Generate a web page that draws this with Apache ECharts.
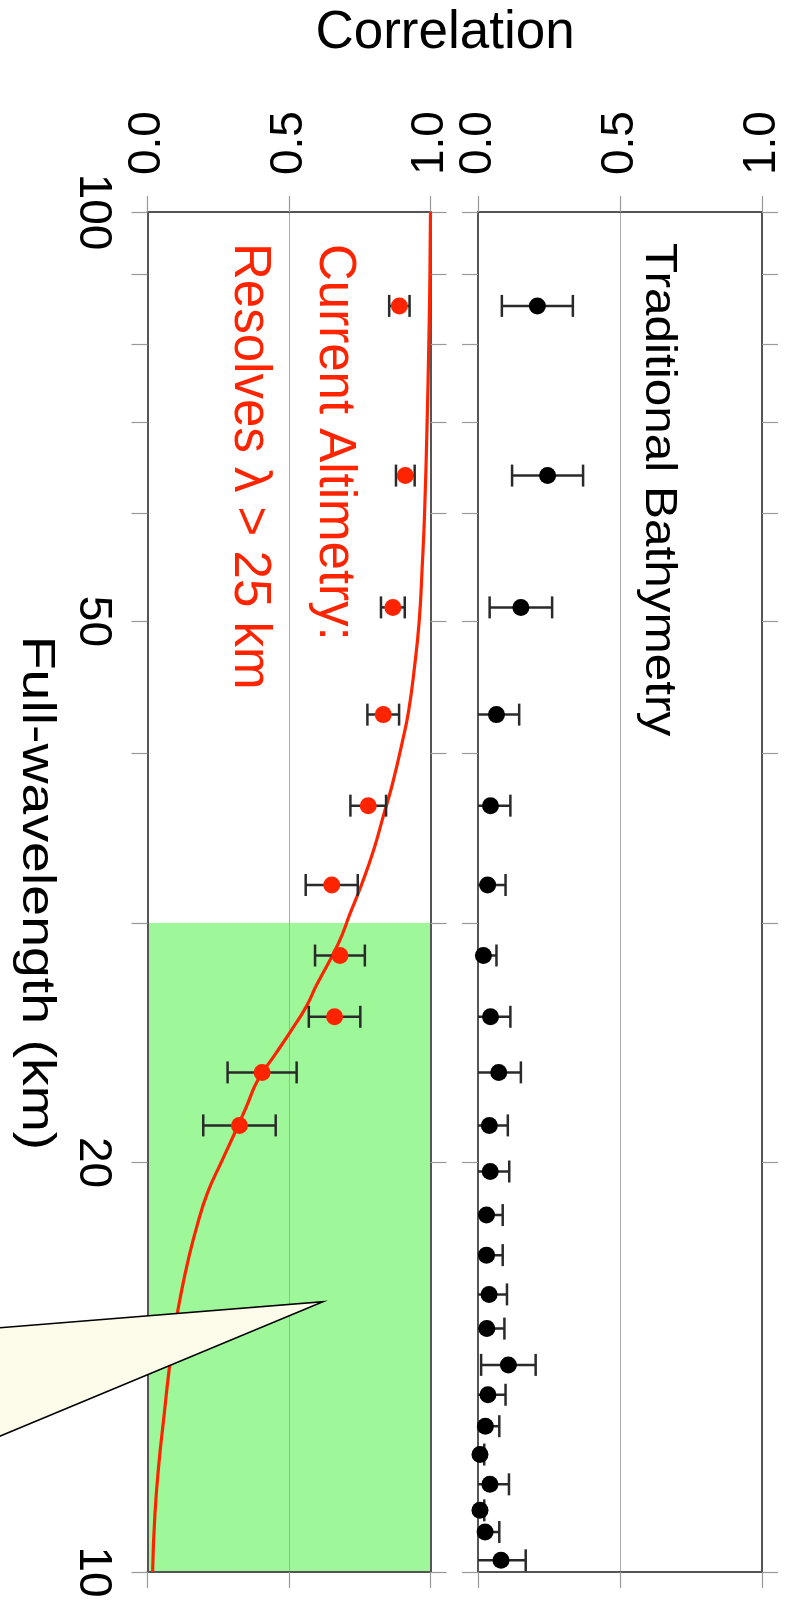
<!DOCTYPE html>
<html>
<head>
<meta charset="utf-8">
<script src="https://cdn.jsdelivr.net/npm/echarts@6/dist/echarts.min.js"></script>
<style>
  html, body { margin: 0; padding: 0; background: #ffffff; }
  #chart { width: 792px; height: 1620px; }
</style>
</head>
<body>
<div id="chart"></div>
<script>
// ---------------- data ----------------
// wavelengths (km) of the spectral estimates
const bathyWavelength = [85.3, 64.0, 51.2, 42.7, 36.6, 32.0, 28.4, 25.6, 23.3, 21.3, 19.7, 18.3, 17.1, 16.0, 15.1, 14.2, 13.5, 12.8, 12.2, 11.6, 11.1, 10.7, 10.2];
const bathyCorr = [0.209, 0.245, 0.151, 0.065, 0.044, 0.034, 0.019, 0.044, 0.073, 0.040, 0.043, 0.030, 0.030, 0.039, 0.031, 0.107, 0.035, 0.026, 0.007, 0.042, 0.007, 0.025, 0.081];
const bathyErr  = [0.125, 0.125, 0.110, 0.080, 0.070, 0.063, 0.046, 0.070, 0.078, 0.065, 0.067, 0.057, 0.057, 0.063, 0.062, 0.096, 0.062, 0.049, 0.015, 0.067, 0.015, 0.050, 0.087];

const altiWavelength = [85.3, 64.0, 51.2, 42.7, 36.6, 32.0, 28.4, 25.6, 23.3, 21.3];
const altiCorr = [0.890, 0.911, 0.867, 0.833, 0.780, 0.651, 0.680, 0.661, 0.405, 0.325];
const altiErr  = [0.036, 0.033, 0.042, 0.056, 0.063, 0.092, 0.088, 0.091, 0.122, 0.128];

const fitWavelength = [100, 90, 80, 70, 60, 55, 50, 46, 43, 41, 38, 36, 34, 32, 30.5, 29, 27, 26, 25, 24, 23, 22, 21, 20, 19, 18, 17, 16, 15, 14, 13, 12, 11, 10];
const fitCorr       = [1.0, 0.998, 0.994, 0.988, 0.979, 0.971, 0.960, 0.942, 0.923, 0.903, 0.866, 0.834, 0.800, 0.756, 0.716, 0.675, 0.597, 0.559, 0.507, 0.450, 0.390, 0.350, 0.307, 0.260, 0.212, 0.176, 0.145, 0.118, 0.094, 0.075, 0.058, 0.040, 0.026, 0.018];

const resolvedBand = [30, 10];               // km, shaded band
const corrRange = [0, 1];
const corrInterval = 0.5;
const wavelengthRange = [10, 100];
const wavelengthLabels = [10, 20, 50, 100];
const wavelengthTicks = [10, 20, 30, 40, 50, 60, 70, 80, 90, 100];
const calloutTip = [0.62, 15.8];             // [correlation, km]

// ---------------- chart ----------------
const FONT = "'Liberation Sans', Arial, Helvetica, sans-serif";
const chart = echarts.init(document.getElementById('chart'), null, { renderer: 'canvas' });

const gridL = { left: 147.5, top: 212, width: 283, height: 1360 };
const gridR = { left: 478, top: 212, width: 284, height: 1360 };

function corrAxis(gridIndex, position, withLabels) {
  return {
    type: 'value', gridIndex, position,
    min: corrRange[0], max: corrRange[1], interval: corrInterval,
    z: 3,
    axisLine: { show: true, onZero: false, lineStyle: { color: '#555', width: 2 } },
    axisTick: { show: true, length: 16, lineStyle: { color: '#999', width: 1.2 } },
    axisLabel: withLabels ? {
      show: true, rotate: -90, margin: 37, fontSize: 46, color: '#000', fontFamily: FONT,
      formatter: v => v.toFixed(1), showMinLabel: true, showMaxLabel: true, hideOverlap: false
    } : { show: false },
    splitLine: { show: withLabels, lineStyle: { color: '#aaa', width: 1 } }
  };
}
function lamAxis(gridIndex, position, withLabels) {
  return {
    type: 'log', logBase: 10, gridIndex, position,
    min: wavelengthRange[0], max: wavelengthRange[1],
    z: 3,
    axisLine: { show: true, onZero: false, lineStyle: { color: '#555', width: 2 } },
    axisTick: { show: true, length: 16, customValues: wavelengthTicks, lineStyle: { color: '#999', width: 1.2 } },
    axisLabel: withLabels ? {
      show: true, rotate: -90, margin: 32, fontSize: 46, color: '#000', fontFamily: FONT,
      customValues: wavelengthLabels, formatter: v => String(Math.round(v)), hideOverlap: false
    } : { show: false },
    minorTick: { show: false },
    splitLine: { show: false }
  };
}

function errRender(params, api) {
  const lam = api.value(0), lo = api.value(1), hi = api.value(2);
  const p1 = api.coord([lo, lam]);
  const p2 = api.coord([hi, lam]);
  const h = 11;
  const st = { stroke: '#2a2a2a', lineWidth: 2.5 };
  return {
    type: 'group',
    children: [
      { type: 'line', shape: { x1: p1[0], y1: p1[1], x2: p2[0], y2: p2[1] }, style: st },
      { type: 'line', shape: { x1: p1[0], y1: p1[1] - h, x2: p1[0], y2: p1[1] + h }, style: st },
      { type: 'line', shape: { x1: p2[0], y1: p2[1] - h, x2: p2[0], y2: p2[1] + h }, style: st }
    ]
  };
}

const fitData = fitWavelength.map((l, i) => [fitCorr[i], l]);
const altiPts = altiWavelength.map((l, i) => [altiCorr[i], l]);
const altiBars = altiWavelength.map((l, i) => [l, altiCorr[i] - altiErr[i], altiCorr[i] + altiErr[i]]);
const bathyPts = bathyWavelength.map((l, i) => [bathyCorr[i], l]);
const bathyBars = bathyWavelength.map((l, i) => [l, bathyCorr[i] - bathyErr[i], bathyCorr[i] + bathyErr[i]]);

const option = {
  backgroundColor: '#ffffff',
  animation: false,
  grid: [
    Object.assign({ show: false, containLabel: false }, gridL),
    Object.assign({ show: false, containLabel: false }, gridR)
  ],
  xAxis: [
    corrAxis(0, 'top', true),
    corrAxis(0, 'bottom', false),
    corrAxis(1, 'top', true),
    corrAxis(1, 'bottom', false)
  ],
  yAxis: [
    lamAxis(0, 'left', true),
    lamAxis(0, 'right', false),
    lamAxis(1, 'left', false),
    lamAxis(1, 'right', false)
  ],
  series: [
    {
      name: 'band', type: 'line', xAxisIndex: 0, yAxisIndex: 0, z: 1, silent: true,
      data: fitData, symbol: 'none', lineStyle: { width: 0, opacity: 0 },
      markArea: {
        silent: true,
        itemStyle: { color: '#9ef89a', opacity: 1 },
        data: [[{ xAxis: corrRange[0], yAxis: resolvedBand[0] }, { xAxis: corrRange[1], yAxis: resolvedBand[1] }]]
      }
    },
    {
      name: 'fit', type: 'line', xAxisIndex: 0, yAxisIndex: 0, z: 4,
      data: fitData, smooth: 0.5, symbol: 'none',
      lineStyle: { color: '#ff2400', width: 3.2 }
    },
    {
      name: 'altiErr', type: 'custom', xAxisIndex: 0, yAxisIndex: 0, z: 5, clip: true,
      renderItem: errRender, encode: { x: [1, 2], y: 0 }, data: altiBars
    },
    {
      name: 'alti', type: 'scatter', xAxisIndex: 0, yAxisIndex: 0, z: 6,
      data: altiPts, symbolSize: 17, itemStyle: { color: '#ff2400', opacity: 1 }
    },
    {
      name: 'bathyErr', type: 'custom', xAxisIndex: 2, yAxisIndex: 2, z: 5, clip: true,
      renderItem: errRender, encode: { x: [1, 2], y: 0 }, data: bathyBars
    },
    {
      name: 'bathy', type: 'scatter', xAxisIndex: 2, yAxisIndex: 2, z: 6,
      data: bathyPts, symbolSize: 17, itemStyle: { color: '#000000', opacity: 1 }
    }
  ],
  graphic: [
    { type: 'text', x: 445, y: 33, z: 50,
      style: { text: 'Correlation', font: `53px ${FONT}`, fill: '#000', align: 'center', verticalAlign: 'middle' } },
    { type: 'text', x: 36, y: 893, rotation: -Math.PI / 2, scaleX: 1.18, z: 50,
      style: { text: 'Full-wavelength (km)', font: `47px ${FONT}`, fill: '#000', align: 'center', verticalAlign: 'middle' } },
    { type: 'text', x: 658, y: 243, rotation: -Math.PI / 2, scaleX: 1.1, z: 50,
      style: { text: 'Traditional Bathymetry', font: `45px ${FONT}`, fill: '#000', align: 'left', verticalAlign: 'middle' } },
    { type: 'text', x: 334, y: 244, rotation: -Math.PI / 2, z: 50,
      style: { text: 'Current Altimetry:', font: `51px ${FONT}`, fill: '#ff2400', align: 'left', verticalAlign: 'middle' } },
    { type: 'text', x: 249, y: 243, rotation: -Math.PI / 2, z: 50,
      style: { text: 'Resolves \u03bb > 25 km', font: `51px ${FONT}`, fill: '#ff2400', align: 'left', verticalAlign: 'middle' } }
  ]
};
chart.setOption(option);

// callout pointer anchored on the data coordinates of the left panel
const tip = chart.convertToPixel({ xAxisIndex: 0, yAxisIndex: 0 }, calloutTip);
chart.setOption({
  graphic: [{
    id: 'callout', type: 'polygon', z: 40,
    shape: { points: [[-10, tip[1] + 26.8], tip, [-10, tip[1] + 138.5]] },
    style: { fill: '#fdfbea', stroke: '#000', lineWidth: 1.6 }
  }]
});
</script>
</body>
</html>
